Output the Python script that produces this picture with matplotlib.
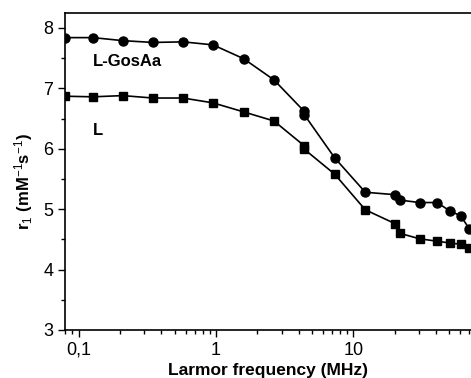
import matplotlib.pyplot as plt
from matplotlib.ticker import FixedLocator, LogLocator, MultipleLocator, NullFormatter

plt.rcParams["font.family"] = ["Liberation Sans", "DejaVu Sans"]
plt.rcParams["mathtext.fontset"] = "custom"
plt.rcParams["mathtext.rm"] = "Liberation Sans"
plt.rcParams["mathtext.bf"] = "Liberation Sans:bold"

freq = [0.079, 0.127, 0.209, 0.347, 0.574, 0.95, 1.59, 2.64, 4.38, 4.40,
        7.3, 12.2, 20.1, 21.8, 30.3, 40.6, 50.5, 60.4, 70.0]
r1_gosaa = [7.84, 7.84, 7.79, 7.76, 7.77, 7.72, 7.49, 7.14, 6.62, 6.56,
            5.85, 5.28, 5.24, 5.15, 5.11, 5.11, 4.97, 4.89, 4.67]
r1_l = [6.87, 6.86, 6.88, 6.84, 6.84, 6.76, 6.61, 6.46, 6.05, 5.99,
        5.58, 4.99, 4.76, 4.60, 4.51, 4.47, 4.44, 4.42, 4.35]
xtick_vals = [0.1, 1, 10]
xtick_labels = ["0,1", "1", "10"]

fig = plt.figure(figsize=(4.71, 3.78), dpi=100)
ax = fig.add_axes([0.138, 0.127, 0.862, 0.839])

ax.plot(freq, r1_gosaa, "-o", color="black", lw=1.2, ms=6.5)
ax.plot(freq, r1_l, "-s", color="black", lw=1.2, ms=6)

ax.set_xscale("log")
ax.set_xlim(0.0794, 71.8)
ax.set_ylim(3, 8.25)

ax.xaxis.set_major_locator(FixedLocator(xtick_vals))
ax.set_xticklabels(xtick_labels)
ax.xaxis.set_minor_locator(LogLocator(base=10, subs=range(2, 10)))
ax.xaxis.set_minor_formatter(NullFormatter())
ax.yaxis.set_major_locator(MultipleLocator(1))
ax.yaxis.set_minor_locator(MultipleLocator(0.5))

ax.tick_params(which="major", direction="out", length=5, width=1, labelsize=13)
ax.tick_params(which="minor", direction="out", length=3, width=1)
ax.spines["right"].set_visible(False)
for side in ["left", "bottom", "top"]:
    ax.spines[side].set_linewidth(1.2)

ax.text(0.127, 7.45, "L-GosAa", fontsize=12, fontweight="bold", ha="left", va="center")
ax.text(0.127, 6.3, "L", fontsize=12, fontweight="bold", ha="left", va="center")

ax.set_xlabel("Larmor frequency (MHz)", fontsize=12.5, fontweight="bold", labelpad=3)
ax.set_ylabel(r"$\mathbf{r_{\mathrm{1}}\ (mM^{\mathrm{-1}}s^{\mathrm{-1}})}$", fontsize=12)
ax.yaxis.set_label_coords(-0.074, 0.467)

fig.savefig("out.png", dpi=100)
